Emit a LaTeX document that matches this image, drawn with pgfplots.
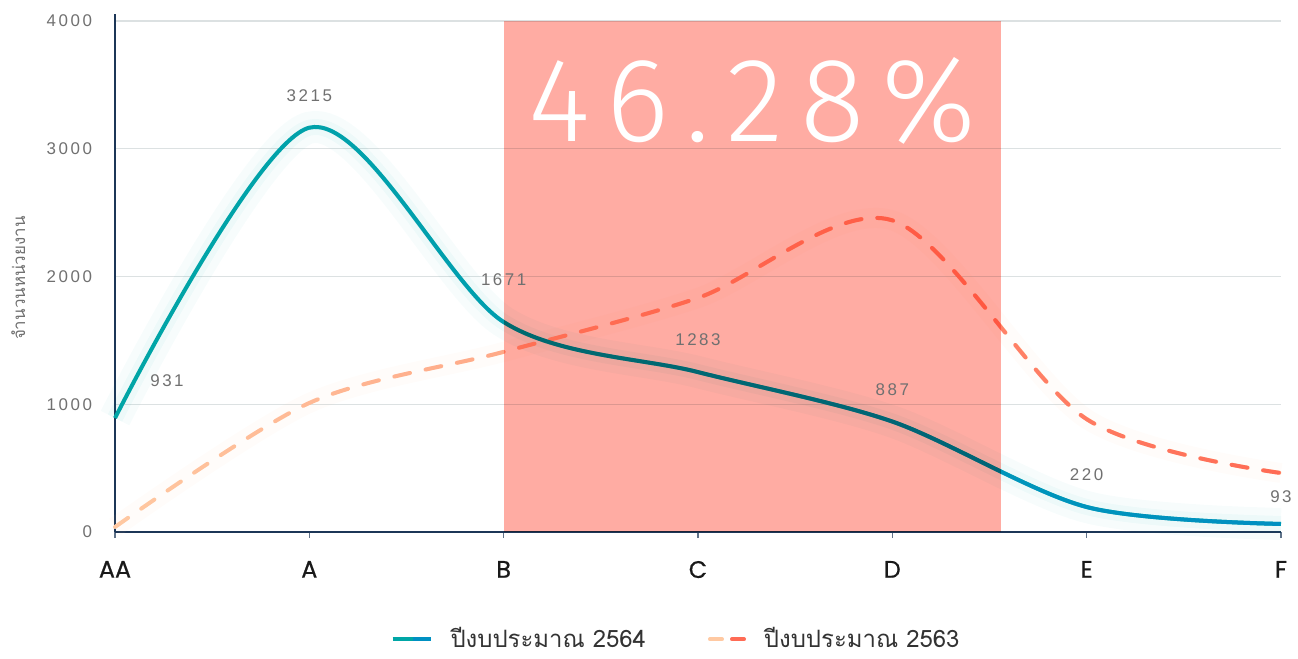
\documentclass[border=0pt]{standalone}
\usepackage{fontspec}
\usepackage{pgfplots}
\pgfplotsset{compat=1.18}
\usepackage{pgfplotstable}
\usetikzlibrary{fadings}
\setmainfont{Liberation Sans}
\newfontfamily\thaifont[Script=Thai]{Loma}
\newfontfamily\numfont[LetterSpace=15]{Liberation Sans}
\newfontfamily\catfont[FakeBold=0.6]{Poppins}
\newfontfamily\bigfont[LetterSpace=14]{Fira Sans Light}

\definecolor{tealc}{HTML}{00A6A6}
\definecolor{bluec}{HTML}{0090C2}
\definecolor{peachc}{HTML}{FFC9A2}
\definecolor{tomatoc}{HTML}{FF6B55}
\definecolor{bandc}{HTML}{FFACA3}
\definecolor{gridc}{HTML}{DCE1E2}
\definecolor{axisc}{HTML}{1C3657}
\definecolor{labc}{HTML}{707070}

% 2564
\pgfplotstableread{
x y lab
0 892 931
1 3165 3215
2 1644 1671
3 1252 1283
4 865 887
5 196 220
6 63 93
}\curA

% 2563
\pgfplotstableread{
x y
0 39
1 1010
2 1410
3 1832
4 2440
5 885
6 462
}\curB

\begin{document}
\begin{tikzpicture}
\begin{axis}[
  scale only axis, width=583bp, height=259bp,
  xmin=0, xmax=6, ymin=0, ymax=4055,
  axis x line*=bottom, axis y line*=left,
  axis line style={draw=axisc, line width=0.75bp},
  xtick={0,...,6}, xticklabels={AA,A,B,C,D,E,F},
  ytick={0,1000,2000,3000,4000}, yticklabels={0,1000,2000,3000,4000},
  ymajorgrids, grid style={draw=gridc, line width=0.6bp},
  tick align=outside, major tick length=3bp,
  x tick style={draw=axisc!70, line width=0.6bp},
  y tick style={draw=none},
  xticklabel style={font=\catfont\fontsize{12}{14}\selectfont, text=black!90, yshift=-8bp},
  yticklabel style={font=\numfont\fontsize{8.5}{10}\selectfont, text=labc, xshift=-5bp},
  ylabel={\thaifont จำนวนหน่วยงาน},
  ylabel style={font=\fontsize{8.5}{10}\selectfont, text=labc, at={(axis description cs:-0.083,0.49)}, anchor=center},
  legend columns=2,
  legend style={draw=none, fill=none, at={(0.482,-0.207)}, anchor=center,
    font=\thaifont\fontsize{12}{14}\selectfont, text=black!80,
    /tikz/every odd column/.append style={column sep=7bp},
    /tikz/every even column/.append style={column sep=29bp}},
  legend cell align=left,
  clip=false,
]
\addlegendimage{legend image code/.code={
  \draw[tealc, line width=2bp] (0bp,0bp) -- (10bp,0bp);
  \draw[bluec, line width=2bp] (10bp,0bp) -- (19bp,0bp);}}
\addlegendentry{ปีงบประมาณ 2564}
\addlegendimage{legend image code/.code={
  \draw[peachc, line width=2bp, line cap=round] (1bp,0bp) -- (7bp,0bp);
  \draw[tomatoc, line width=2bp, line cap=round] (12bp,0bp) -- (18bp,0bp);}}
\addlegendentry{ปีงบประมาณ 2563}

% glow
\addplot[tealc, opacity=0.03, line width=16bp, smooth, forget plot] table[x=x,y=y]{\curA};
\addplot[tealc, opacity=0.04, line width=8bp, smooth, forget plot] table[x=x,y=y]{\curA};
\addplot[peachc, opacity=0.05, line width=10bp, smooth, forget plot] table[x=x,y=y]{\curB};

% 2563 dashed
\addplot[peachc, line width=2bp, smooth, dash pattern=on 8bp off 8bp, line cap=round, forget plot] table[x=x,y=y]{\curB};
\addplot[tomatoc, line width=2bp, smooth, dash pattern=on 8bp off 8bp, line cap=round, path fading=west, forget plot] table[x=x,y=y]{\curB};

% 2564 solid
\addplot[tealc, line width=2bp, smooth, forget plot,
  point meta=explicit symbolic, nodes near coords,
  every node near coord/.append style={font=\numfont\fontsize{8.5}{10}\selectfont, text=labc, anchor=center, yshift=16bp},
  coordinate style/.condition={x==0}{xshift=26bp, yshift=2.5bp},
  coordinate style/.condition={x==2}{yshift=5bp},
  coordinate style/.condition={x==6}{yshift=-2.5bp},
] table[x=x,y=y,meta=lab]{\curA};
\addplot[bluec, line width=2bp, smooth, path fading=west, forget plot] table[x=x,y=y]{\curA};

% highlighted band
\addplot[draw=none, fill=bandc, blend mode=multiply, forget plot] coordinates {(2,4000) (4.56,4000)} \closedcycle;
\node[font=\bigfont\fontsize{60}{60}\selectfont, text=white] at (axis cs:3.28,3374) {46.28\%};
\end{axis}
\pgfresetboundingbox
\useasboundingbox (current axis.south west) ++(-57.5bp,-63.5bp) rectangle ++(649bp,329.5bp);
\end{tikzpicture}
\end{document}
